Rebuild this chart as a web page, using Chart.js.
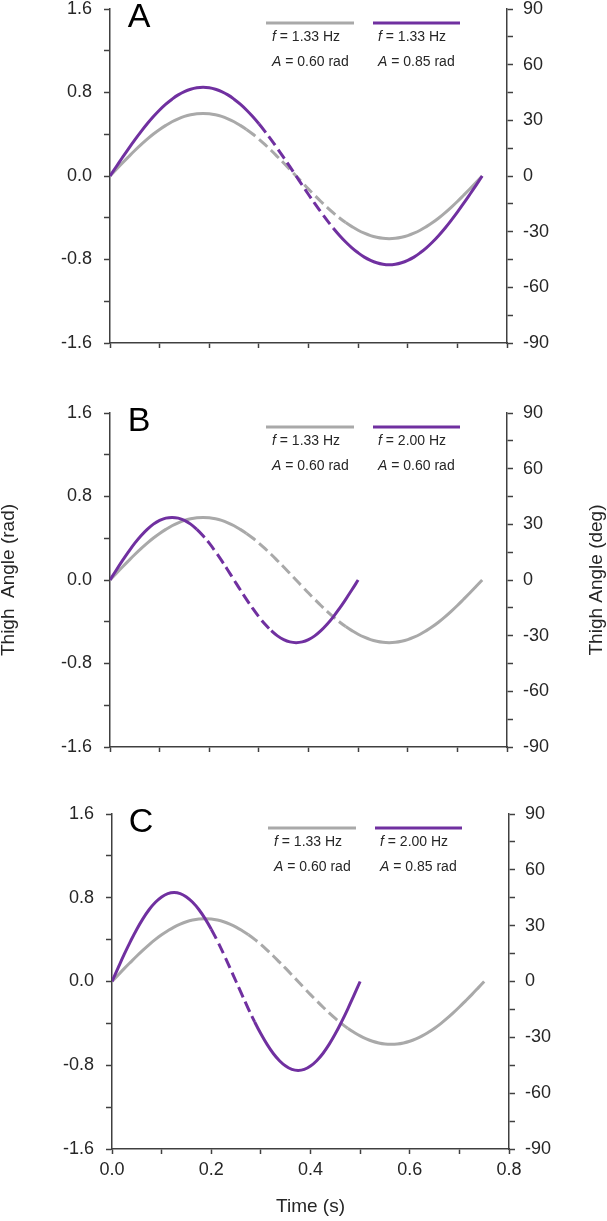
<!DOCTYPE html>
<html>
<head>
<meta charset="utf-8">
<script src="https://cdn.jsdelivr.net/npm/chart.js@4.4.0/dist/chart.umd.min.js"></script>
<style>
  html, body { margin: 0; padding: 0; background: #ffffff; }
  body { width: 607px; height: 1221px; position: relative; overflow: hidden; }
  .panel { position: absolute; left: 0; width: 607px; }
</style>
</head>
<body>
<div class="panel" style="top:-21px;height:394px"><canvas id="cA"></canvas></div>
<div class="panel" style="top:383px;height:394px"><canvas id="cB"></canvas></div>
<div class="panel" style="top:784px;height:437px"><canvas id="cC"></canvas></div>
<script>
// ---------------- data ----------------
const timeSlow = [0, 0.0125, 0.025, 0.0375, 0.05, 0.0625, 0.075, 0.0875, 0.1, 0.1125, 0.125, 0.1375, 0.15, 0.1625, 0.175, 0.1875,
                  0.2, 0.2125, 0.225, 0.2375, 0.25, 0.2625, 0.275, 0.2875, 0.3, 0.3125, 0.325, 0.3375, 0.35, 0.3625, 0.375,
                  0.3875, 0.4, 0.4125, 0.425, 0.4375, 0.45, 0.4625, 0.475, 0.4875, 0.5, 0.5125, 0.525, 0.5375, 0.55, 0.5625,
                  0.575, 0.5875, 0.6, 0.6125, 0.625, 0.6375, 0.65, 0.6625, 0.675, 0.6875, 0.7, 0.7125, 0.725, 0.7375, 0.75];
const timeFast = [0, 0.0125, 0.025, 0.0375, 0.05, 0.0625, 0.075, 0.0875, 0.1, 0.1125, 0.125,
                  0.1375, 0.15, 0.1625, 0.175, 0.1875, 0.2, 0.2125, 0.225, 0.2375, 0.25,
                  0.2625, 0.275, 0.2875, 0.3, 0.3125, 0.325, 0.3375, 0.35, 0.3625, 0.375,
                  0.3875, 0.4, 0.4125, 0.425, 0.4375, 0.45, 0.4625, 0.475, 0.4875, 0.5];

// reference gait: f = 1.33 Hz, A = 0.60 rad (grey, all panels)
const thighRef = [0, 0.063, 0.125, 0.185, 0.244, 0.300, 0.353, 0.402, 0.446, 0.485, 0.520, 0.548, 0.571, 0.587, 0.597, 0.600,
                  0.597, 0.587, 0.571, 0.548, 0.520, 0.485, 0.446, 0.402, 0.353, 0.300, 0.244, 0.185, 0.125, 0.063, 0,
                  -0.063, -0.125, -0.185, -0.244, -0.300, -0.353, -0.402, -0.446, -0.485, -0.520, -0.548, -0.571, -0.587, -0.597, -0.600,
                  -0.597, -0.587, -0.571, -0.548, -0.520, -0.485, -0.446, -0.402, -0.353, -0.300, -0.244, -0.185, -0.125, -0.063, 0];
// panel A: f = 1.33 Hz, A = 0.85 rad
const thighA = [0, 0.089, 0.177, 0.263, 0.346, 0.425, 0.500, 0.569, 0.632, 0.688, 0.736, 0.777, 0.808, 0.831, 0.845, 0.850,
                0.845, 0.831, 0.808, 0.777, 0.736, 0.688, 0.632, 0.569, 0.500, 0.425, 0.346, 0.263, 0.177, 0.089, 0,
                -0.089, -0.177, -0.263, -0.346, -0.425, -0.500, -0.569, -0.632, -0.688, -0.736, -0.777, -0.808, -0.831, -0.845, -0.850,
                -0.845, -0.831, -0.808, -0.777, -0.736, -0.688, -0.632, -0.569, -0.500, -0.425, -0.346, -0.263, -0.177, -0.089, 0];
// panel B: f = 2.00 Hz, A = 0.60 rad
const thighB = [0, 0.094, 0.185, 0.272, 0.353, 0.424, 0.485, 0.535, 0.571, 0.593, 0.600,
                0.593, 0.571, 0.535, 0.485, 0.424, 0.353, 0.272, 0.185, 0.094, 0,
                -0.094, -0.185, -0.272, -0.353, -0.424, -0.485, -0.535, -0.571, -0.593, -0.600,
                -0.593, -0.571, -0.535, -0.485, -0.424, -0.353, -0.272, -0.185, -0.094, 0];
// panel C: f = 2.00 Hz, A = 0.85 rad
const thighC = [0, 0.133, 0.263, 0.386, 0.500, 0.601, 0.688, 0.757, 0.808, 0.840, 0.850,
                0.840, 0.808, 0.757, 0.688, 0.601, 0.500, 0.386, 0.263, 0.133, 0,
                -0.133, -0.263, -0.386, -0.500, -0.601, -0.688, -0.757, -0.808, -0.840, -0.850,
                -0.840, -0.808, -0.757, -0.688, -0.601, -0.500, -0.386, -0.263, -0.133, 0];

// dashed (transition) intervals, seconds
const dashRef = [0.275, 0.475];
const dashA = [0.3, 0.45];
const dashB = [0.175, 0.325];
const dashC = [0.2, 0.2875];

const panelLetters = ['A', 'B', 'C'];
const refFreqLabel = '1.33 Hz';
const refAmpLabel = '0.60 rad';
const testFreqLabels = ['1.33 Hz', '2.00 Hz', '2.00 Hz'];
const testAmpLabels = ['0.85 rad', '0.60 rad', '0.85 rad'];

const xTickLabels = ['0.0', '0.2', '0.4', '0.6', '0.8'];
const radTickLabels = ['-1.6', '-0.8', '0.0', '0.8', '1.6'];
const degTickLabels = ['-90', '-60', '-30', '0', '30', '60', '90'];

// ---------------- styling ----------------
const GRAY = '#a9a9a9';
const PURPLE = '#7030a0';
const AXIS = '#404040';
const TXT = '#262626';
const FONT = 'Arial, "Liberation Sans", sans-serif';

function pts(xs, ys) { return xs.map((x, i) => ({ x: x, y: ys[i] })); }
function pick(labels) {
  return function (v) {
    const s = labels.find(l => Math.abs(parseFloat(l) - v) < 1e-6);
    return s === undefined ? '' : s;
  };
}
function dashSeg(range) {
  return {
    borderDash: ctx => (ctx.p0.parsed.x >= range[0] - 1e-9 && ctx.p1.parsed.x <= range[1] + 1e-9) ? [11, 5] : undefined
  };
}

const overlay = {
  id: 'overlay',
  afterDraw(chart, args, o) {
    const { ctx, chartArea: ca } = chart;
    ctx.save();
    // panel letter
    ctx.fillStyle = '#000';
    ctx.font = '34px ' + FONT;
    ctx.textAlign = 'center';
    ctx.textBaseline = 'alphabetic';
    ctx.fillText(o.letter, ca.left + 29, ca.top + 18);
    // legend
    const items = [
      { color: GRAY, x0: 156, x1: 244, tx: 162, f: refFreqLabel, a: refAmpLabel },
      { color: PURPLE, x0: 263, x1: 350, tx: 268, f: o.freq, a: o.amp }
    ];
    items.forEach(it => {
      ctx.strokeStyle = it.color;
      ctx.lineWidth = 3;
      ctx.beginPath();
      ctx.moveTo(ca.left + it.x0, ca.top + 14);
      ctx.lineTo(ca.left + it.x1, ca.top + 14);
      ctx.stroke();
      ctx.fillStyle = TXT;
      ctx.textAlign = 'left';
      ctx.textBaseline = 'middle';
      const rows = [['f', ' = ' + it.f, 28], ['A', ' = ' + it.a, 53]];
      rows.forEach(r => {
        const x = ca.left + it.tx, y = ca.top + r[2];
        ctx.font = 'italic 14px ' + FONT;
        ctx.fillText(r[0], x, y);
        const w = ctx.measureText(r[0]).width;
        ctx.font = '14px ' + FONT;
        ctx.fillText(r[1], x + w, y);
      });
    });
    // axis titles (middle panel only)
    if (o.titles) {
      ctx.fillStyle = TXT;
      ctx.font = '19px ' + FONT;
      ctx.textAlign = 'center';
      ctx.textBaseline = 'middle';
      const cy = (ca.top + ca.bottom) / 2;
      ctx.save();
      ctx.translate(9, cy);
      ctx.rotate(-Math.PI / 2);
      ctx.fillText('Thigh  Angle (rad)', 0, 0);
      ctx.restore();
      ctx.save();
      ctx.translate(597, cy);
      ctx.rotate(-Math.PI / 2);
      ctx.fillText('Thigh Angle (deg)', 0, 0);
      ctx.restore();
    }
    ctx.restore();
  }
};

function makePanel(id, idx, tTest, yTest, dTest, showX, xH, leftW, rightW) {
  const tickFont = { family: FONT, size: 18 };
  return new Chart(document.getElementById(id), {
    type: 'line',
    data: {
      datasets: [
        { data: pts(tTest, yTest), borderColor: PURPLE, borderWidth: 3, order: 0, segment: dashSeg(dTest) },
        { data: pts(timeSlow, thighRef), borderColor: GRAY, borderWidth: 3, order: 1, segment: dashSeg(dashRef) }
      ]
    },
    options: {
      responsive: true,
      maintainAspectRatio: false,
      animation: false,
      events: [],
      layout: { padding: { top: 30, left: 0, right: 0, bottom: 0 } },
      elements: { point: { radius: 0 }, line: { tension: 0.4, fill: false, borderCapStyle: 'butt' } },
      plugins: {
        legend: { display: false },
        tooltip: { enabled: false },
        overlay: { letter: panelLetters[idx], freq: testFreqLabels[idx], amp: testAmpLabels[idx], titles: idx === 1 }
      },
      scales: {
        x: {
          type: 'linear', min: 0, max: 0.8,
          ticks: { stepSize: 0.1, display: showX, autoSkip: false, maxRotation: 0, padding: 5, color: TXT, font: tickFont, callback: pick(xTickLabels) },
          grid: { display: true, drawOnChartArea: false, drawTicks: true, tickLength: 5, tickColor: AXIS, tickWidth: 1.5 },
          border: { display: true, color: AXIS, width: 1.5 },
          title: { display: showX, text: 'Time (s)', color: TXT, font: { family: FONT, size: 19 }, padding: { top: 0, bottom: 3 } },
          afterFit: s => { s.height = xH; }
        },
        y: {
          position: 'left', min: -1.6, max: 1.6,
          ticks: { stepSize: 0.4, autoSkip: false, padding: 12, color: TXT, font: tickFont, callback: pick(radTickLabels) },
          grid: { display: true, drawOnChartArea: false, drawTicks: true, tickLength: 6, tickColor: AXIS, tickWidth: 1.5 },
          border: { display: true, color: AXIS, width: 1.5 },
          afterFit: s => { s.width = leftW; }
        },
        y2: {
          position: 'right', min: -90, max: 90,
          ticks: { stepSize: 15, autoSkip: false, padding: 10, color: TXT, font: tickFont, callback: pick(degTickLabels) },
          grid: { display: true, drawOnChartArea: false, drawTicks: true, tickLength: 6, tickColor: AXIS, tickWidth: 1.5 },
          border: { display: true, color: AXIS, width: 1.5 },
          afterFit: s => { s.width = rightW; }
        }
      }
    },
    plugins: [overlay]
  });
}

makePanel('cA', 0, timeSlow, thighA, dashA, false, 30, 110, 100);
makePanel('cB', 1, timeFast, thighB, dashB, false, 30, 110, 100);
makePanel('cC', 2, timeFast, thighC, dashC, true, 72, 112, 98);
</script>
</body>
</html>
